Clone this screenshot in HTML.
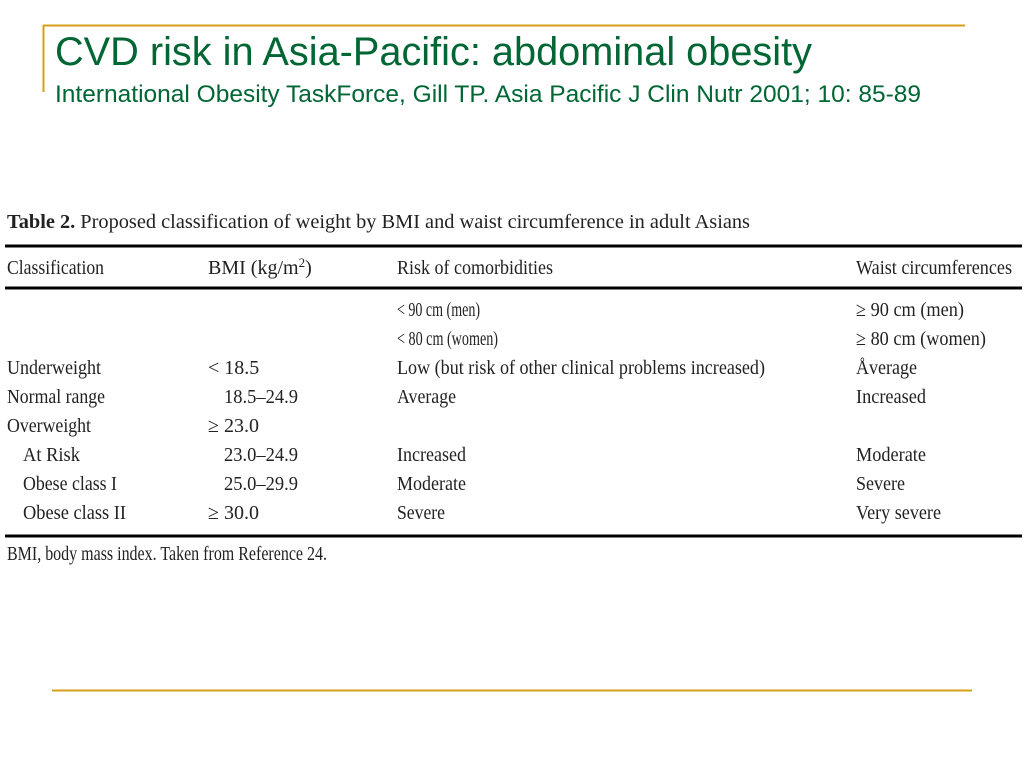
<!DOCTYPE html>
<html><head><meta charset="utf-8"><style>
html,body{margin:0;padding:0;background:#fff;}
svg{display:block}
.t{font-family:"Liberation Serif",serif;font-size:20px;fill:#222}
.h{font-family:"Liberation Sans",sans-serif;fill:#006633}
</style></head><body>
<svg width="1024" height="768" viewBox="0 0 1024 768">
<line x1="43" y1="25.5" x2="965" y2="25.5" stroke="#d4a017" stroke-width="2"/>
<line x1="43.5" y1="25" x2="43.5" y2="92" stroke="#d4a017" stroke-width="2"/>
<text class="h" x="55" y="65" font-size="40" textLength="757" lengthAdjust="spacingAndGlyphs">CVD risk in Asia-Pacific: abdominal obesity</text>
<text class="h" x="55" y="102" font-size="24" textLength="866" lengthAdjust="spacingAndGlyphs">International Obesity TaskForce, Gill TP. Asia Pacific J Clin Nutr 2001; 10: 85-89</text>

<text class="t" x="7" y="228" font-size="22" textLength="743" lengthAdjust="spacingAndGlyphs"><tspan font-weight="bold">Table 2.</tspan> Proposed classification of weight by BMI and waist circumference in adult Asians</text>
<line x1="5" y1="246" x2="1022" y2="246" stroke="#000" stroke-width="3"/>
<g>
<text class="t" x="7" y="274" textLength="97" lengthAdjust="spacingAndGlyphs">Classification</text>
<text class="t" x="208" y="274">BMI (kg/m<tspan font-size="13" dy="-7">2</tspan><tspan dy="7">)</tspan></text>
<text class="t" x="397" y="274" textLength="156" lengthAdjust="spacingAndGlyphs">Risk of comorbidities</text>
<text class="t" x="856" y="274" textLength="156" lengthAdjust="spacingAndGlyphs">Waist circumferences</text>
</g>
<line x1="5" y1="288" x2="1022" y2="288" stroke="#000" stroke-width="3"/>
<g>
<text class="t" x="397" y="316" textLength="83" lengthAdjust="spacingAndGlyphs">&lt; 90 cm (men)</text>
<text class="t" x="856" y="316" textLength="108" lengthAdjust="spacingAndGlyphs">≥ 90 cm (men)</text>
<text class="t" x="397" y="345" textLength="101" lengthAdjust="spacingAndGlyphs">&lt; 80 cm (women)</text>
<text class="t" x="856" y="345" textLength="130" lengthAdjust="spacingAndGlyphs">≥ 80 cm (women)</text>

<text class="t" x="7" y="374" textLength="94" lengthAdjust="spacingAndGlyphs">Underweight</text>
<text class="t" x="208" y="374">&lt; 18.5</text>
<text class="t" x="397" y="374" textLength="368" lengthAdjust="spacingAndGlyphs">Low (but risk of other clinical problems increased)</text>
<text class="t" x="856" y="374" textLength="61" lengthAdjust="spacingAndGlyphs">Åverage</text>

<text class="t" x="7" y="403" textLength="98" lengthAdjust="spacingAndGlyphs">Normal range</text>
<text class="t" x="224" y="403" textLength="74" lengthAdjust="spacingAndGlyphs">18.5–24.9</text>
<text class="t" x="397" y="403" textLength="59" lengthAdjust="spacingAndGlyphs">Average</text>
<text class="t" x="856" y="403" textLength="70" lengthAdjust="spacingAndGlyphs">Increased</text>

<text class="t" x="7" y="432" textLength="84" lengthAdjust="spacingAndGlyphs">Overweight</text>
<text class="t" x="208" y="432">≥ 23.0</text>

<text class="t" x="23" y="461" textLength="57" lengthAdjust="spacingAndGlyphs">At Risk</text>
<text class="t" x="224" y="461" textLength="74" lengthAdjust="spacingAndGlyphs">23.0–24.9</text>
<text class="t" x="397" y="461" textLength="69" lengthAdjust="spacingAndGlyphs">Increased</text>
<text class="t" x="856" y="461" textLength="70" lengthAdjust="spacingAndGlyphs">Moderate</text>

<text class="t" x="23" y="490" textLength="94" lengthAdjust="spacingAndGlyphs">Obese class I</text>
<text class="t" x="224" y="490" textLength="74" lengthAdjust="spacingAndGlyphs">25.0–29.9</text>
<text class="t" x="397" y="490" textLength="69" lengthAdjust="spacingAndGlyphs">Moderate</text>
<text class="t" x="856" y="490" textLength="49" lengthAdjust="spacingAndGlyphs">Severe</text>

<text class="t" x="23" y="519" textLength="103" lengthAdjust="spacingAndGlyphs">Obese class II</text>
<text class="t" x="208" y="519">≥ 30.0</text>
<text class="t" x="397" y="519" textLength="48" lengthAdjust="spacingAndGlyphs">Severe</text>
<text class="t" x="856" y="519" textLength="85" lengthAdjust="spacingAndGlyphs">Very severe</text>
</g>
<line x1="5" y1="536" x2="1022" y2="536" stroke="#000" stroke-width="3"/>
<text class="t" x="7" y="560" font-size="17" textLength="320" lengthAdjust="spacingAndGlyphs">BMI, body mass index. Taken from Reference 24.</text>
<line x1="52" y1="690.5" x2="972" y2="690.5" stroke="#d4a017" stroke-width="2"/>
</svg>
</body></html>
